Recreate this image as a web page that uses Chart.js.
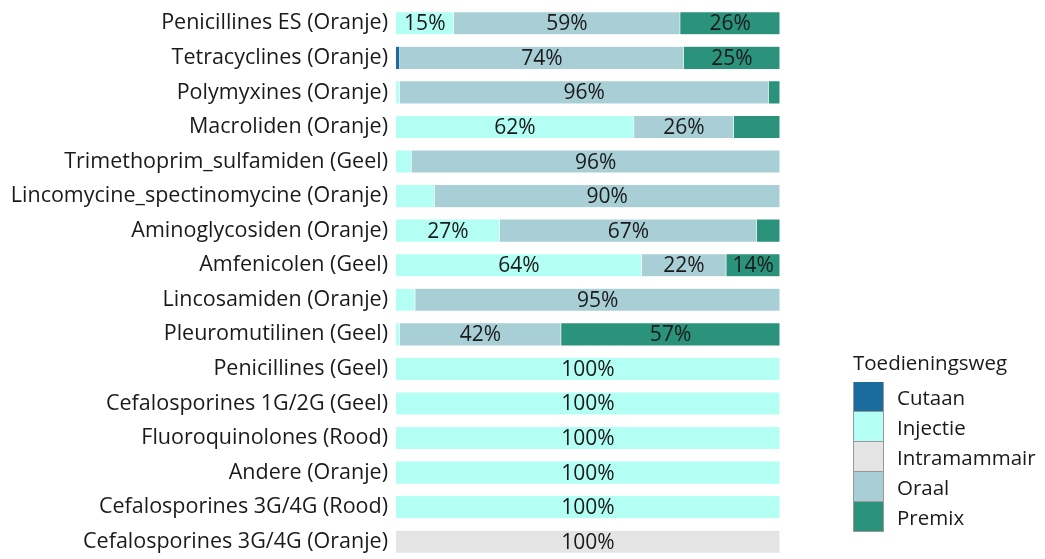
<!DOCTYPE html>
<html>
<head>
<meta charset="utf-8">
<script src="https://cdn.jsdelivr.net/npm/chart.js@4"></script>
<style>
  body { margin: 0; background: #fff; font-family: "Open Sans", sans-serif; }
  #wrap { position: relative; width: 1045px; height: 559px; }
  #legend { position: absolute; left: 853px; top: 347px; color: #1a1a1a; font-size: 20.5px; line-height: 30px; }
  #legend .title { margin-bottom: 5px; }
  #legend .item { display: flex; align-items: center; height: 30px; }
  #legend .box { width: 29px; height: 29px; border: 1px solid #999; border-top-width: 0; box-sizing: content-box; margin-right: 13px; }
  #legend .item:first-of-type .box { border-top-width: 1px; }
</style>
</head>
<body>
<div id="wrap">
  <canvas id="bar-chart" width="1045" height="559"></canvas>
  <div id="legend"></div>
</div>
<script>
// categories (top to bottom)
const categories = [
  'Penicillines ES (Oranje)',
  'Tetracyclines (Oranje)',
  'Polymyxines (Oranje)',
  'Macroliden (Oranje)',
  'Trimethoprim_sulfamiden (Geel)',
  'Lincomycine_spectinomycine (Oranje)',
  'Aminoglycosiden (Oranje)',
  'Amfenicolen (Geel)',
  'Lincosamiden (Oranje)',
  'Pleuromutilinen (Geel)',
  'Penicillines (Geel)',
  'Cefalosporines 1G/2G (Geel)',
  'Fluoroquinolones (Rood)',
  'Andere (Oranje)',
  'Cefalosporines 3G/4G (Rood)',
  'Cefalosporines 3G/4G (Oranje)',
];

// share per route (%)
const cutaan       = [0, 1, 0, 0, 0, 0, 0, 0, 0, 0, 0, 0, 0, 0, 0, 0];
const injectie     = [15, 0, 1, 62, 4, 10, 27, 64, 5, 1, 100, 100, 100, 100, 100, 0];
const intramammair = [0, 0, 0, 0, 0, 0, 0, 0, 0, 0, 0, 0, 0, 0, 0, 100];
const oraal        = [59, 74, 96, 26, 96, 90, 67, 22, 95, 42, 0, 0, 0, 0, 0, 0];
const premix       = [26, 25, 3, 12, 0, 0, 6, 14, 0, 57, 0, 0, 0, 0, 0, 0];

const routes = ['Cutaan', 'Injectie', 'Intramammair', 'Oraal', 'Premix'];
const colors = ['#1a6c9f', '#b3fff3', '#e4e4e4', '#a9cfd6', '#2b937b'];
const series = [cutaan, injectie, intramammair, oraal, premix];

// percentage labels inside the segments
const segmentLabels = {
  id: 'segmentLabels',
  afterDatasetsDraw(chart) {
    const ctx = chart.ctx;
    ctx.save();
    ctx.font = '21px "Open Sans"';
    ctx.fillStyle = '#1a1a1a';
    ctx.textAlign = 'center';
    ctx.textBaseline = 'middle';
    chart.data.datasets.forEach((ds, i) => {
      chart.getDatasetMeta(i).data.forEach((bar, j) => {
        const v = ds.data[j];
        if (v < 13) return;
        ctx.fillText(v + '%', (bar.x + bar.base) / 2, bar.y + 1);
      });
    });
    ctx.restore();
  }
};

const barConfig = {
  type: 'bar',
  data: {
    labels: categories,
    datasets: routes.map((r, i) => ({
      label: r,
      data: series[i],
      backgroundColor: colors[i],
      borderColor: 'rgba(255,255,255,0.6)',
      borderWidth: 0.5,
      categoryPercentage: 1,
      barPercentage: 0.67,
    })),
  },
  options: {
    indexAxis: 'y',
    responsive: false,
    animation: false,
    layout: { padding: { left: 0, right: 265, top: 6, bottom: -2 } },
    plugins: {
      legend: { display: false },
      tooltip: { enabled: false },
    },
    scales: {
      x: {
        stacked: true,
        min: 0,
        max: 100,
        display: false,
      },
      y: {
        stacked: true,
        grid: { display: false, drawTicks: false },
        border: { display: false },
        afterFit(scale) {
          scale.width = 396;
          scale.paddingTop = 0;
          scale.paddingBottom = 0;
        },
        ticks: {
          color: '#1a1a1a',
          font: { family: 'Open Sans', size: 21.5 },
          padding: 8,
          autoSkip: false,
        },
      },
    },
  },
  plugins: [segmentLabels],
};

new Chart(document.querySelector('#bar-chart'), barConfig);

// legend built from the same routes / colors
const legend = document.querySelector('#legend');
legend.innerHTML = '<div class="title">Toedieningsweg</div>' +
  routes.map((r, i) => `<div class="item"><span class="box" style="background:${colors[i]}"></span>${r}</div>`).join('');
</script>
</body>
</html>
